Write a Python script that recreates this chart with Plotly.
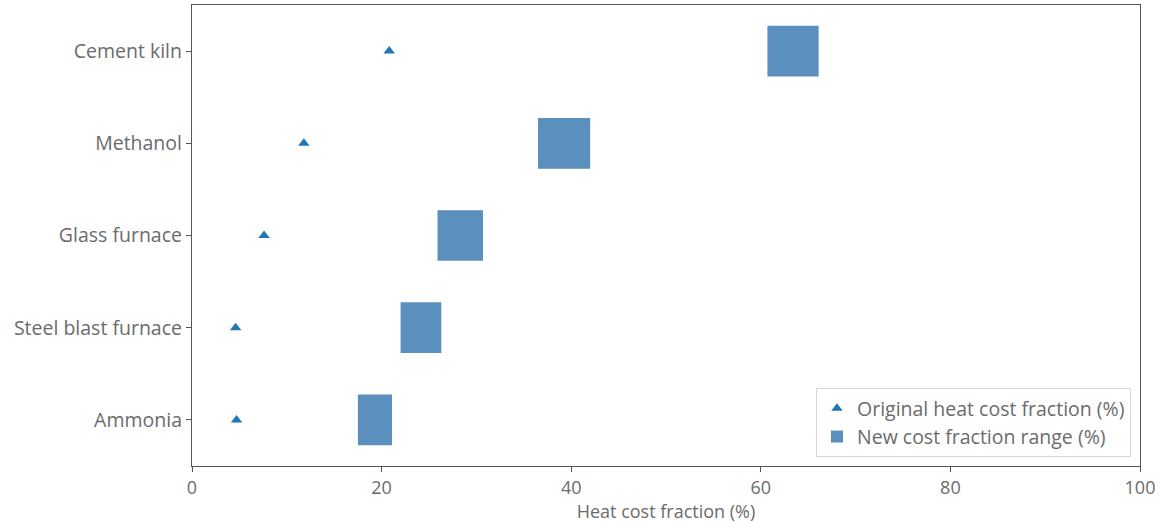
import plotly.graph_objects as go

categories = ["Ammonia", "Steel blast furnace", "Glass furnace", "Methanol", "Cement kiln"]
original_fraction = [4.7, 4.6, 7.6, 11.8, 20.8]
new_low = [17.5, 22.0, 25.9, 36.5, 60.7]
new_high = [21.1, 26.3, 30.7, 42.0, 66.1]

TXT = "#6b6b6b"
FS = 19.5
FSX = 18
fig = go.Figure()
fig.add_trace(go.Scatter(
    x=original_fraction, y=categories, mode="markers",
    marker=dict(symbol="triangle-up", size=10, color="#1f77b4"),
    name="Original heat cost fraction (%)",
))
fig.add_trace(go.Bar(
    x=[h - l for l, h in zip(new_low, new_high)], base=new_low, y=categories,
    orientation="h", width=0.55,
    marker=dict(color="#5a8fbe", line=dict(width=0)),
    name="New cost fraction range (%)",
))

axis_common = dict(showline=True, linecolor="#555555", linewidth=1.2, mirror=True,
                   ticks="outside", ticklen=5, tickcolor="#555555", showgrid=False,
                   zeroline=False)
fig.update_layout(
    width=1165, height=523,
    margin=dict(l=192, r=25, t=5, b=57),
    paper_bgcolor="white", plot_bgcolor="white",
    font=dict(family="Open Sans, sans-serif", color=TXT),
    xaxis=dict(range=[0, 100], tickvals=[0, 20, 40, 60, 80, 100],
               tickfont=dict(size=FSX, color=TXT),
               title=dict(text="Heat cost fraction (%)", font=dict(size=FSX, color=TXT), standoff=2),
               **axis_common),
    yaxis=dict(type="category", categoryorder="array", categoryarray=categories,
               tickfont=dict(size=FS, color=TXT),
               range=[-0.5, 4.5], **axis_common),
    legend=dict(x=0.9905, y=0.0195, xanchor="right", yanchor="bottom",
                bgcolor="white", bordercolor="#d8d8d8", borderwidth=1,
                font=dict(size=FS, color=TXT), traceorder="normal"),
    showlegend=True,
)
fig.write_html("out.html", config={"displayModeBar": False},
               post_script="document.body.style.margin='0';")
